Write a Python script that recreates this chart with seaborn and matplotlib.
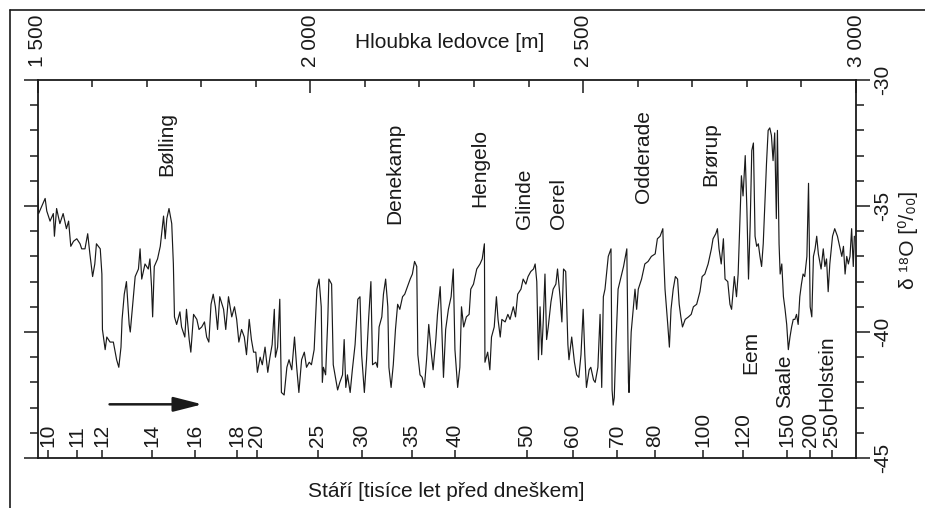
import numpy as np
import pandas as pd
import matplotlib
matplotlib.use("Agg")
import matplotlib.pyplot as plt
import seaborn as sns

# GRIP ice core, delta 18O against depth
# depth in m, d18o in per mil
depth_1 = [1500, 1502, 1508, 1514, 1517, 1523, 1529, 1531, 1535, 1541,
           1547, 1553, 1557, 1561, 1566, 1572, 1578, 1581, 1587, 1592,
           1596, 1601, 1605, 1608, 1615, 1618, 1619, 1624, 1627, 1633,
           1639, 1645, 1649, 1653, 1655, 1659, 1663, 1668, 1670, 1674,
           1679, 1685, 1688, 1691, 1697, 1703, 1706, 1709, 1711, 1714,
           1720, 1725, 1731, 1734, 1737, 1741, 1746, 1749, 1751, 1755,
           1761, 1764, 1770, 1773, 1778, 1781, 1786, 1792, 1796, 1801,
           1806, 1810, 1814, 1818, 1822, 1826, 1830, 1834, 1841, 1845,
           1850, 1856, 1861, 1865, 1869, 1874, 1879, 1883, 1888, 1892,
           1896, 1900, 1903, 1908, 1912, 1917, 1922, 1926, 1930, 1934,
           1936, 1940, 1944, 1947, 1952, 1957, 1961, 1966, 1971, 1975,
           1979, 1984, 1989, 1993, 1998, 2002, 2007, 2012, 2016, 2020,
           2022]
d18o_1 = [-34.5, -35.3, -35.0, -34.7, -35.2, -35.6, -35.3, -36.2, -35.1, -35.7,
          -35.3, -35.9, -35.6, -36.6, -36.4, -36.3, -36.5, -36.7, -36.7, -36.1,
          -36.9, -37.8, -37.3, -36.5, -36.7, -37.7, -39.9, -40.7, -40.2, -40.4,
          -40.4, -41.1, -41.4, -40.6, -39.5, -38.5, -38.0, -39.7, -40.0, -39.0,
          -37.8, -37.5, -36.7, -37.9, -37.3, -37.5, -37.1, -38.2, -39.4, -37.4,
          -37.1, -36.6, -35.4, -36.3, -35.5, -35.1, -35.7, -37.3, -39.4, -39.7,
          -39.2, -39.8, -40.2, -39.1, -40.3, -40.8, -39.3, -39.5, -39.9, -39.8,
          -39.6, -40.2, -40.4, -38.9, -38.5, -39.0, -39.9, -38.6, -39.1, -39.9,
          -38.6, -39.4, -39.0, -39.5, -40.4, -39.9, -40.2, -40.9, -39.5, -40.3,
          -40.8, -40.8, -41.6, -41.0, -41.3, -40.6, -41.6, -41.0, -40.5, -39.1,
          -41.0, -40.6, -38.7, -42.4, -42.5, -41.4, -41.1, -41.5, -40.2, -41.4,
          -42.4, -41.1, -40.8, -41.4, -41.2, -41.3, -40.7, -38.3, -37.9, -39.0,
          -42.0]

depth_2 = [2024, 2028, 2032, 2034, 2039, 2042, 2046, 2050, 2054, 2059,
           2062, 2065, 2068, 2073, 2077, 2082, 2087, 2091, 2094, 2099,
           2103, 2107, 2111, 2114, 2120, 2123, 2126, 2131, 2134, 2138,
           2142, 2144, 2148, 2152, 2156, 2160, 2164, 2169, 2173, 2178,
           2183, 2187, 2191, 2195, 2197, 2201, 2205, 2209, 2213, 2217,
           2222, 2225, 2230, 2233, 2238, 2241, 2244, 2248, 2253, 2258,
           2262, 2265, 2270, 2274, 2277, 2281, 2286, 2291, 2294, 2299,
           2305, 2311, 2315, 2319, 2320, 2325, 2329, 2332, 2337, 2341,
           2344, 2348, 2351, 2357, 2362, 2366, 2372, 2376, 2380, 2386,
           2390, 2395, 2399, 2404, 2409, 2412, 2415, 2418, 2421, 2424,
           2427, 2430, 2433, 2436, 2441, 2445, 2450, 2453, 2458, 2461,
           2464, 2468, 2472, 2474, 2479, 2484, 2488, 2492, 2496, 2500,
           2503, 2506, 2511, 2514, 2519, 2522, 2527, 2531, 2534, 2537]
d18o_2 = [-41.4, -41.7, -39.5, -37.9, -38.1, -41.3, -41.8, -42.3, -42.0, -41.7,
          -40.3, -42.2, -41.7, -42.4, -41.5, -40.5, -38.7, -38.6, -40.9, -42.4,
          -41.1, -39.4, -38.0, -41.3, -41.2, -41.4, -39.8, -39.4, -38.5, -37.9,
          -39.0, -41.4, -42.2, -41.3, -39.9, -38.9, -39.1, -38.6, -38.5, -38.2,
          -37.9, -37.7, -37.2, -37.4, -40.9, -41.7, -41.8, -42.2, -41.1, -39.7,
          -40.9, -41.5, -40.3, -39.3, -38.2, -39.9, -41.8, -39.9, -39.1, -38.6,
          -37.5, -40.7, -42.2, -41.4, -39.0, -39.8, -39.4, -39.3, -38.3, -38.1,
          -37.5, -37.3, -37.1, -36.5, -41.2, -40.8, -41.5, -40.2, -39.8, -38.6,
          -39.5, -40.2, -39.5, -39.6, -39.3, -39.5, -39.0, -39.4, -38.5, -38.3,
          -37.9, -38.1, -37.8, -37.6, -37.5, -37.3, -38.0, -41.1, -39.0, -40.9,
          -39.5, -37.7, -40.3, -39.8, -38.8, -38.3, -38.1, -37.5, -38.7, -39.6,
          -37.5, -37.6, -40.5, -41.1, -40.2, -41.2, -41.7, -41.8, -40.9, -39.1,
          -40.9, -42.2, -41.5, -41.4, -41.9, -42.0, -41.4, -39.3, -42.2, -38.6]

depth_3 = [2540, 2546, 2551, 2553, 2555, 2557, 2560, 2564, 2574, 2580,
           2583, 2584, 2588, 2592, 2595, 2598, 2601, 2607, 2613, 2619,
           2625, 2632, 2636, 2641, 2646, 2647, 2650, 2655, 2658, 2661,
           2665, 2669, 2673, 2676, 2679, 2682, 2687, 2693, 2698, 2702,
           2708, 2714, 2718, 2723, 2729, 2735, 2738, 2743, 2746, 2749,
           2753, 2757, 2760, 2765, 2769, 2772, 2777, 2781, 2784, 2787,
           2790, 2793, 2797, 2800, 2803, 2806, 2809, 2812, 2815, 2818,
           2821, 2824, 2827, 2830, 2833, 2836, 2839, 2842, 2845, 2848,
           2851, 2854, 2856, 2859, 2861, 2864, 2867, 2870, 2873, 2876,
           2879, 2882, 2885, 2888, 2891, 2894, 2897, 2900, 2903, 2906,
           2910, 2913, 2916, 2919, 2922, 2925, 2928, 2931, 2936, 2940,
           2943, 2946, 2949, 2952, 2957, 2961, 2966, 2971, 2974, 2977,
           2980, 2983, 2986, 2989, 2992, 2995, 2997]
d18o_3 = [-38.3, -37.0, -36.7, -42.3, -42.9, -42.6, -40.5, -38.3, -37.4, -36.7,
          -42.0, -42.4, -40.0, -39.0, -38.3, -39.1, -38.3, -37.9, -37.3, -37.2,
          -37.0, -36.9, -36.3, -36.2, -35.9, -36.7, -38.3, -39.7, -40.6, -39.1,
          -38.3, -37.8, -37.9, -38.9, -39.4, -39.8, -39.5, -39.4, -39.3, -39.0,
          -38.9, -38.4, -37.8, -37.7, -37.3, -36.7, -36.3, -36.1, -35.9, -36.7,
          -37.3, -36.3, -37.9, -38.0, -38.9, -39.1, -37.8, -38.6, -37.7, -35.7,
          -33.8, -34.6, -33.0, -35.1, -37.9, -35.8, -32.8, -32.5, -36.2, -36.6,
          -36.5, -37.0, -37.4, -36.5, -34.9, -33.3, -32.0, -31.9, -32.2, -33.2,
          -32.1, -35.5, -32.0, -36.5, -37.7, -37.3, -38.6, -39.1, -39.7, -40.7,
          -40.2, -39.8, -39.5, -39.5, -39.3, -39.7, -38.6, -38.1, -37.7, -37.8,
          -37.0, -34.1, -39.0, -39.4, -37.0, -36.7, -36.2, -36.9, -37.5, -36.7,
          -37.4, -37.1, -38.4, -37.3, -36.2, -35.9, -36.2, -36.7, -37.0, -36.6,
          -37.7, -37.0, -37.3, -37.0, -35.9, -37.4, -36.2]

# age scale (ka before present) and where it sits on the depth axis
age_labels = ["10", "11", "12", "14", "16", "18", "20", "25", "30", "35",
              "40", "50", "60", "70", "80", "100", "120", "150", "200", "250"]
age_depths = [1519, 1572, 1618, 1710, 1789, 1865, 1902, 2014, 2095, 2186,
              2265, 2397, 2481, 2562, 2631, 2719, 2793, 2874, 2916, 2956]

depth_ticks = [1500, 2000, 2500, 3000]
depth_labels = ["1 500", "2 000", "2 500", "3 000"]
y_ticks = [-45, -40, -35, -30]
y_labels = ["-45", "-40", "-35", "-30"]

# named warm periods: text, depth, bottom of text (per mil)
period_names = ["Bølling", "Denekamp", "Hengelo", "Glinde", "Oerel",
                "Odderade", "Brørup", "Eem", "Saale", "Holstein"]
period_depths = [1737, 2155, 2311, 2393, 2454, 2611, 2734, 2807, 2869, 2946]
period_levels = [-33.8, -35.7, -35.05, -35.9, -35.9, -34.9, -34.2, -41.65, -43.0, -43.15]

sns.set_style("white")
plt.rcParams['font.family'] = ['Liberation Sans', 'DejaVu Sans']
ink = '#1a1a1a'
fs = 15

df = pd.DataFrame({'depth': depth_1 + depth_2 + depth_3,
                   'd18o': d18o_1 + d18o_2 + d18o_3})

fig = plt.figure(figsize=(9.25, 5.08), dpi=100)
ax = fig.add_axes([37.5 / 925, 1 - 458 / 508, 818.5 / 925, 378 / 508])

sns.lineplot(data=df, x='depth', y='d18o', ax=ax, color=ink, lw=0.85,
             estimator=None, sort=False)

ax.set_xlim(1500, 3000)
ax.set_ylim(-45, -30)
for s in ax.spines.values():
    s.set_color(ink)
    s.set_linewidth(1.3)

# y axis: ticks both sides, labels on the right, rotated
ax.set_yticks(y_ticks, labels=y_labels, rotation=90, va='center', fontsize=fs, color=ink)
ax.set_yticks(np.arange(-45, -29, 1), minor=True)
ax.tick_params(axis='y', which='both', left=True, right=True, labelleft=False,
               labelright=True, direction='out', color=ink, width=1.1)
ax.tick_params(axis='y', which='major', length=10, pad=2)
ax.tick_params(axis='y', which='minor', length=6)

# bottom: age ticks, labels drawn inside the plot
ax.set_xticks(age_depths, labels=[])
ax.tick_params(axis='x', which='both', bottom=True, direction='in', length=6,
               color=ink, width=1.1)
for d, lab in zip(age_depths, age_labels):
    ax.text(d, 0.029, lab, transform=ax.get_xaxis_transform(), rotation=90,
            ha='center', va='bottom', fontsize=fs, color=ink)
ax.set_xlabel("Stáří [tisíce let před dneškem]", fontsize=fs, color=ink, labelpad=14)
ax.set_ylabel("")

# top: depth axis
ax2 = ax.twiny()
ax2.set_xlim(1500, 3000)
ax2.set_xticks(depth_ticks, labels=depth_labels, rotation=90, va='bottom', fontsize=fs, color=ink)
ax2.set_xticks(np.arange(1500, 3001, 100), minor=True)
ax2.tick_params(axis='x', which='both', top=True, direction='in', color=ink, width=1.1, pad=9)
ax2.tick_params(axis='x', which='major', length=9)
ax2.tick_params(axis='x', which='minor', length=5)
for s in ax2.spines.values():
    s.set_visible(False)

ax.text(0.503, 1.098, "Hloubka ledovce [m]", transform=ax.transAxes,
        ha='center', va='center', fontsize=fs, color=ink)
ax.text(1.064, 0.577, "δ ¹⁸O [⁰/₀₀]", transform=ax.transAxes, rotation=90,
        ha='center', va='center', fontsize=fs, color=ink)

for name, d, v in zip(period_names, period_depths, period_levels):
    ax.text(d, v, name, rotation=90, ha='center', va='bottom', fontsize=fs, color=ink)

# time arrow
ax.annotate('', xy=(1807, -42.87), xytext=(1627, -42.87),
            arrowprops=dict(arrowstyle='-|>,head_length=1.1,head_width=0.28',
                            color=ink, lw=1.8, mutation_scale=16))

# outer frame of the scanned figure
fig.add_artist(plt.Line2D([10 / 925, 10 / 925], [0, 1 - 10 / 508],
                          transform=fig.transFigure, color=ink, lw=1.2))
fig.add_artist(plt.Line2D([10 / 925, 1], [1 - 10 / 508, 1 - 10 / 508],
                          transform=fig.transFigure, color=ink, lw=1.2))

fig.savefig("out.png", dpi=100)
